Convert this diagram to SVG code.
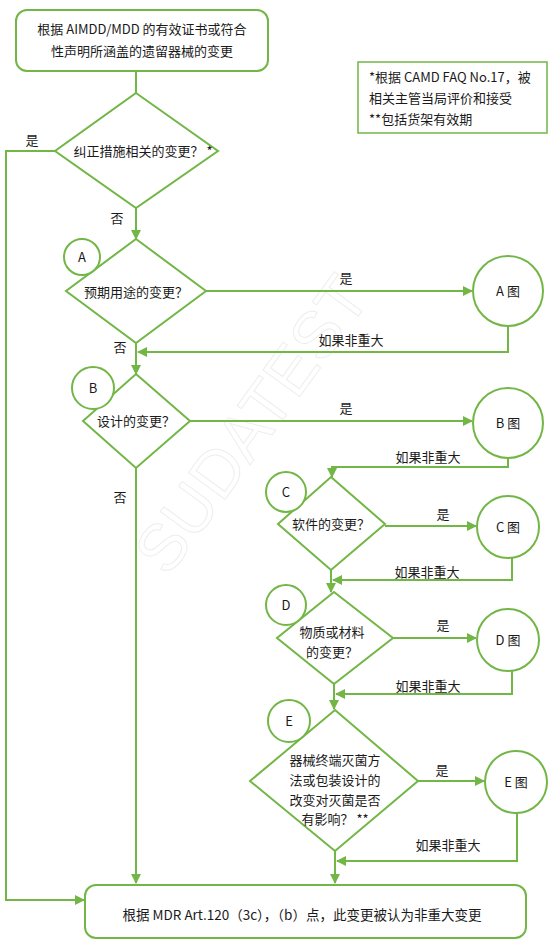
<svg xmlns="http://www.w3.org/2000/svg" width="554" height="941" viewBox="0 0 554 941">
<style>
.s{fill:#fff;stroke:#72b646;stroke-width:2}
.l{fill:none;stroke:#72b646;stroke-width:2}
text{font-family:"Noto Sans CJK SC","Microsoft YaHei",sans-serif;font-size:13px;fill:#1a1a1a}
.c{text-anchor:middle}
.wm{font-family:"Liberation Sans",sans-serif;font-size:66px;fill:none;stroke:#eeeeee;stroke-width:1}
</style>
<defs>
<marker id="a" viewBox="0 0 10 10" refX="9" refY="5" markerWidth="5" markerHeight="5" orient="auto"><path d="M0,0L10,5L0,10z" fill="#72b646"/></marker>
</defs>
<rect width="554" height="941" fill="#fff"/>
<text class="wm" transform="translate(168,578) rotate(-54)">SUDATEST</text>
<g id="connectors">
<path class="l" d="M136,71V93"/>
<path class="l" d="M56,151H6V900H84" marker-end="url(#a)"/>
<path class="l" d="M136,208V239" marker-end="url(#a)"/>
<path class="l" d="M206,291H472" marker-end="url(#a)"/>
<path class="l" d="M508,326V352H138" marker-end="url(#a)"/>
<path class="l" d="M136,343V374" marker-end="url(#a)"/>
<path class="l" d="M190,421H472" marker-end="url(#a)"/>
<path class="l" d="M508,458V467H332V477" marker-end="url(#a)"/>
<path class="l" d="M136,468V883" marker-end="url(#a)"/>
<path class="l" d="M385,526H476" marker-end="url(#a)"/>
<path class="l" d="M512,558V580H333" marker-end="url(#a)"/>
<path class="l" d="M331,570V592" marker-end="url(#a)"/>
<path class="l" d="M393,638H476" marker-end="url(#a)"/>
<path class="l" d="M512,671V694H336" marker-end="url(#a)"/>
<path class="l" d="M334,684V709" marker-end="url(#a)"/>
<path class="l" d="M418,781H484" marker-end="url(#a)"/>
<path class="l" d="M517,813V861H337" marker-end="url(#a)"/>
<path class="l" d="M335,851V883" marker-end="url(#a)"/>
</g>
<g id="labels">
<text x="32" y="145" class="c">是</text>
<text x="117" y="223" class="c">否</text>
<text x="346" y="283" class="c">是</text>
<text x="351" y="345" class="c">如果非重大</text>
<text x="120" y="352" class="c">否</text>
<text x="346" y="413" class="c">是</text>
<text x="428" y="462" class="c">如果非重大</text>
<text x="120" y="502" class="c">否</text>
<text x="443" y="519" class="c">是</text>
<text x="427" y="577" class="c">如果非重大</text>
<text x="443" y="630" class="c">是</text>
<text x="428" y="691" class="c">如果非重大</text>
<text x="442" y="775" class="c">是</text>
<text x="448" y="850" class="c">如果非重大</text>
</g>
<g id="start">
<rect class="s" x="16" y="10" width="252" height="61" rx="11"/>
<text x="142" y="34" class="c">根据 AIMDD/MDD 的有效证书或符合</text>
<text x="142" y="56" class="c">性声明所涵盖的遗留器械的变更</text>
</g>
<g id="note">
<rect x="358" y="62" width="189" height="71" fill="#fff" stroke="#72b646" stroke-width="1.5"/>
<text x="369" y="82">*根据 CAMD  FAQ No.17，被</text>
<text x="369" y="103">相关主管当局评价和接受</text>
<text x="369" y="124">**包括货架有效期</text>
</g>
<g id="d1">
<path class="s" d="M136,93L218,151L136,208L55,151z"/>
<text x="143" y="156" class="c">纠正措施相关的变更？ *</text>
</g>
<g id="dA">
<path class="s" d="M136,239L206,291L136,343L66,291z"/>
<text x="136" y="297" class="c">预期用途的变更？</text>
</g>
<g id="cA"><circle class="s" cx="82" cy="257" r="18"/><text x="82" y="262" class="c">A</text></g>
<g id="gA"><circle class="s" cx="508" cy="291" r="35"/><text x="508" y="296" class="c">A 图</text></g>
<g id="dB">
<path class="s" d="M136,374L190,421L136,468L83,421z"/>
<text x="136" y="426" class="c">设计的变更？</text>
</g>
<g id="cB"><circle class="s" cx="93" cy="388" r="21"/><text x="93" y="393" class="c">B</text></g>
<g id="gB"><circle class="s" cx="508" cy="423" r="35"/><text x="508" y="428" class="c">B 图</text></g>
<g id="dC">
<path class="s" d="M331,477L385,524L331,570L278,524z"/>
<text x="331" y="529" class="c">软件的变更？</text>
</g>
<g id="cC"><circle class="s" cx="286" cy="492" r="20"/><text x="286" y="497" class="c">C</text></g>
<g id="gC"><circle class="s" cx="508" cy="527" r="31"/><text x="508" y="532" class="c">C 图</text></g>
<g id="dD">
<path class="s" d="M334,592L393,638L334,684L277,638z"/>
<text x="332" y="637" class="c">物质或材料</text>
<text x="332" y="657" class="c">的变更？</text>
</g>
<g id="cD"><circle class="s" cx="286" cy="605" r="20"/><text x="286" y="610" class="c">D</text></g>
<g id="gD"><circle class="s" cx="508" cy="640" r="31"/><text x="508" y="645" class="c">D 图</text></g>
<g id="dE">
<path class="s" d="M335,710L418,781L335,851L250,781z"/>
<text x="335" y="765" class="c">器械终端灭菌方</text>
<text x="335" y="785" class="c">法或包装设计的</text>
<text x="335" y="805" class="c">改变对灭菌是否</text>
<text x="335" y="824" class="c">有影响？ **</text>
</g>
<g id="cE"><circle class="s" cx="289" cy="721" r="21"/><text x="289" y="726" class="c">E</text></g>
<g id="gE"><circle class="s" cx="516" cy="782" r="31"/><text x="516" y="787" class="c">E 图</text></g>
<g id="end">
<rect class="s" x="85" y="885" width="441" height="53" rx="11"/>
<text x="302" y="920" class="c" style="font-size:13.5px">根据 MDR Art.120（3c），（b）点，此变更被认为非重大变更</text>
</g>
</svg>
